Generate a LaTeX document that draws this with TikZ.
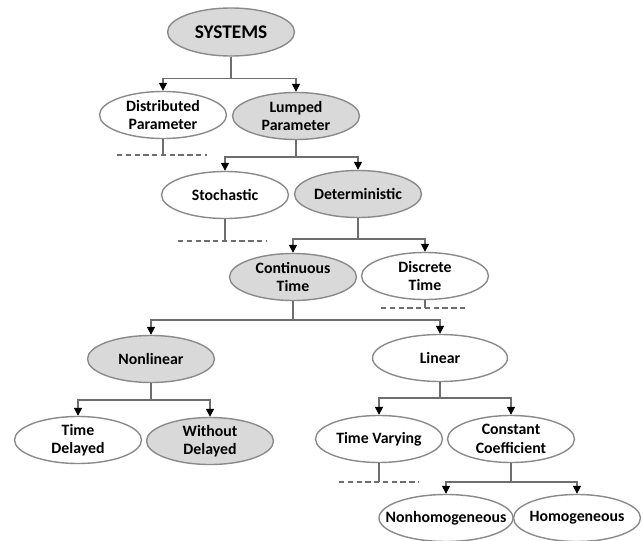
\documentclass[tikz,border=0pt]{standalone}
\usepackage{fontspec}
\setmainfont{Carlito}
\usepackage{tikz}
\usetikzlibrary{shapes.geometric,arrows.meta,calc}
\definecolor{NodeGray}{HTML}{D9D9D9}
\definecolor{EdgeGray}{HTML}{8A8A8A}
\definecolor{LineGray}{HTML}{6E6E6E}
\tikzset{
  EB/.style={ellipse,draw=EdgeGray,line width=0.8pt,
             minimum width=2.54cm,minimum height=0.94cm,
             inner xsep=-0.15cm,inner ysep=-0.1cm,align=center,
             font=\fontsize{9}{10.5}\selectfont\bfseries},
  nG/.style={EB,fill=NodeGray},
  nW/.style={EB,fill=white},
  arr/.style={-{Triangle[length=4.5pt,width=4.5pt,color=black]},LineGray,line width=0.8pt},
  stem/.style={LineGray,line width=0.8pt},
  stub/.style={LineGray,line width=0.8pt,dash pattern=on 3pt off 2pt}
}
\begin{document}
\begin{tikzpicture}[x=0.02cm,y=-0.02cm]
  \useasboundingbox (0,0) rectangle (643,541);
  \node[nG,minimum height=0.96cm,font=\fontsize{11}{13}\selectfont\bfseries] (sys) at (231,32) {SYSTEMS};
  \node[nW] (dist) at (163,115) {Distributed\\Parameter};
  \node[nG] (lump) at (296,116) {Lumped\\Parameter};
  \node[nW] (stoch) at (225,195) {Stochastic};
  \node[nG] (det) at (358,194) {Deterministic};
  \node[nG] (cont) at (293,277) {Continuous\\Time};
  \node[nW] (disc) at (425,276) {Discrete\\Time};
  \node[nG] (nonlin) at (151,359) {Nonlinear};
  \node[nW,minimum width=2.7cm] (lin) at (440,358) {Linear};
  \node[nW] (tdel) at (78,440) {Time\\Delayed};
  \node[nG] (wdel) at (210,441) {Without\\Delayed};
  \node[nW] (tvar) at (379,439) {Time Varying};
  \node[nW] (const) at (511,439) {Constant\\Coefficient};
  \node[nW,inner xsep=-0.26cm] (nonhom) at (446,518) {Nonhomogeneous};
  \node[nW] (hom) at (577,518) {Homogeneous};

  % branches
  \draw[arr] (sys.south) -- ++(0,22) -| (dist.north);
  \draw[arr] (sys.south) -- ++(0,22) -| (lump.north);
  \draw[arr] (lump.south) -- ++(0,17) -| (stoch.north);
  \draw[arr] (lump.south) -- ++(0,17) -| (det.north);
  \draw[arr] (det.south) -- ++(0,21) -| (cont.north);
  \draw[arr] (det.south) -- ++(0,21) -| (disc.north);
  \draw[arr] (cont.south) -- ++(0,19) -| (nonlin.north);
  \draw[arr] (cont.south) -- ++(0,19) -| (lin.north);
  \draw[arr] (nonlin.south) -- ++(0,17) -| (tdel.north);
  \draw[arr] (nonlin.south) -- ++(0,17) -| (wdel.north);
  \draw[arr] (lin.south) -- ++(0,16) -| (tvar.north);
  \draw[arr] (lin.south) -- ++(0,16) -| (const.north);
  \draw[arr] (const.south) -- ++(0,19) -| (nonhom.north);
  \draw[arr] (const.south) -- ++(0,19) -| (hom.north);

  % open ends
  \draw[stem] (dist.south) -- ++(0,16) coordinate (distEnd);
  \draw[stub] ($(distEnd)+(-46,0)$) -- ($(distEnd)+(44,0)$);
  \draw[stem] (stoch.south) -- ++(0,22) coordinate (stochEnd);
  \draw[stub] ($(stochEnd)+(-47,0)$) -- ($(stochEnd)+(41,0)$);
  \draw[stem] (disc.south) -- ++(0,8) coordinate (discEnd);
  \draw[stub] ($(discEnd)+(-44,0)$) -- ($(discEnd)+(42,0)$);
  \draw[stem] (tvar.south) -- ++(0,19) coordinate (tvarEnd);
  \draw[stub] ($(tvarEnd)+(-40,0)$) -- ($(tvarEnd)+(40,0)$);
\end{tikzpicture}
\end{document}
